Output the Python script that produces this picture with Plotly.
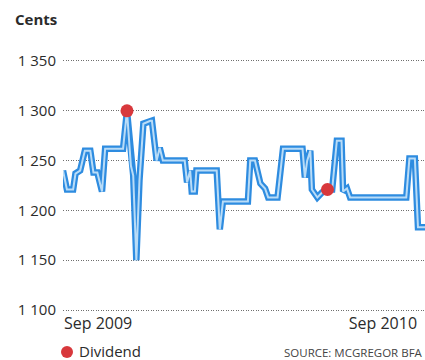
import plotly.graph_objects as go

dates = [
    "2009-07-18", "2009-07-23", "2009-07-31", "2009-08-03", "2009-08-09", "2009-08-15",
    "2009-08-22", "2009-08-26", "2009-08-31", "2009-09-06", "2009-09-10", "2009-10-03",
    "2009-10-08", "2009-10-13", "2009-10-16", "2009-10-20", "2009-10-24", "2009-10-29",
    "2009-11-07", "2009-11-09", "2009-11-15", "2009-11-19", "2009-11-23", "2009-12-21",
    "2009-12-24", "2009-12-28", "2009-12-30", "2010-01-03", "2010-01-05", "2010-01-31",
    "2010-02-04", "2010-02-08", "2010-03-12", "2010-03-15", "2010-03-21", "2010-03-28",
    "2010-04-03", "2010-04-07", "2010-04-19", "2010-04-26", "2010-05-21", "2010-05-24",
    "2010-05-27", "2010-05-31", "2010-06-02", "2010-06-09", "2010-06-15", "2010-06-22",
    "2010-06-28", "2010-07-04", "2010-07-10", "2010-07-12", "2010-07-17", "2010-07-21",
    "2010-10-01", "2010-10-05", "2010-10-12", "2010-10-16", "2010-10-25",
]
prices = [
    1240, 1221, 1221, 1237, 1240, 1260,
    1260, 1238, 1238, 1219, 1262, 1262,
    1300, 1245, 1235, 1150, 1230, 1287,
    1290, 1290, 1250, 1263, 1250, 1250,
    1228, 1240, 1219, 1219, 1240, 1240,
    1181, 1209, 1209, 1250, 1250, 1227,
    1222, 1213, 1213, 1262, 1262, 1233,
    1250, 1260, 1221, 1213, 1218, 1221,
    1221, 1270, 1270, 1219, 1222, 1213,
    1213, 1252, 1252, 1183, 1183,
]
div_dates = ["2009-10-08", "2010-06-22"]
div_prices = [1300, 1221]

y_ticks = [1100, 1150, 1200, 1250, 1300, 1350]
y_ticktext = ["1 100", "1 150", "1 200", "1 250", "1 300", "1 350"]
x_ticks = ["2009-09-01", "2010-09-01"]
x_ticktext = ["Sep 2009", "Sep 2010"]

FONT = "Open Sans"
TXT = "#2b2b2b"

fig = go.Figure()
fig.add_trace(go.Scatter(x=dates, y=prices, mode="lines",
                         line=dict(color="#2e8ce0", width=6.5), hoverinfo="skip"))
fig.add_trace(go.Scatter(x=dates, y=prices, mode="lines",
                         line=dict(color="#b9dcf7", width=2), hoverinfo="skip"))
fig.add_trace(go.Scatter(x=div_dates, y=div_prices, mode="markers", name="Dividend",
                         marker=dict(color="#d8383c", size=13)))

fig.update_layout(
    width=425, height=360,
    margin=dict(l=63, r=0, t=59, b=48),
    paper_bgcolor="white", plot_bgcolor="white",
    showlegend=False,
    font=dict(family=FONT, color=TXT),
    xaxis=dict(type="date", range=["2009-07-18", "2010-10-25"],
               tickvals=x_ticks, ticktext=x_ticktext,
               showgrid=False, zeroline=False, showline=False, ticks="",
               tickfont=dict(size=16, color=TXT, family=FONT), ticklabelstandoff=0),
    yaxis=dict(range=[1098, 1352], tickvals=y_ticks, ticktext=y_ticktext,
               showgrid=True, gridcolor="#6f6f6f", griddash="1px,1.5px", gridwidth=1,
               zeroline=False, showline=False, ticks="",
               tickfont=dict(size=15, color=TXT, family=FONT), ticklabelstandoff=6),
    annotations=[
        dict(text="<b>Cents</b>", xref="paper", yref="paper", x=-63/362, y=1 + 40/253,
             xanchor="left", yanchor="middle", showarrow=False,
             font=dict(size=15, color=TXT, family=FONT), xshift=13),
        dict(text="Dividend", xref="paper", yref="paper", x=(77 - 63) / 362, y=-(350 - 311) / 253,
             xanchor="left", yanchor="middle", showarrow=False,
             font=dict(size=15, color=TXT, family=FONT)),
        dict(text="SOURCE: MCGREGOR BFA", xref="paper", yref="paper", x=1.0, y=-(351 - 311) / 253,
             xanchor="right", yanchor="middle", showarrow=False,
             font=dict(size=11.5, color="#444444", family=FONT)),
    ],
    shapes=[
        dict(type="circle", xref="paper", yref="paper",
             x0=(61 - 63) / 362, x1=(73 - 63) / 362,
             y0=-(357 - 311) / 253, y1=-(345 - 311) / 253,
             fillcolor="#d8383c", line=dict(width=0)),
    ],
)

fig.write_html("out.html")
